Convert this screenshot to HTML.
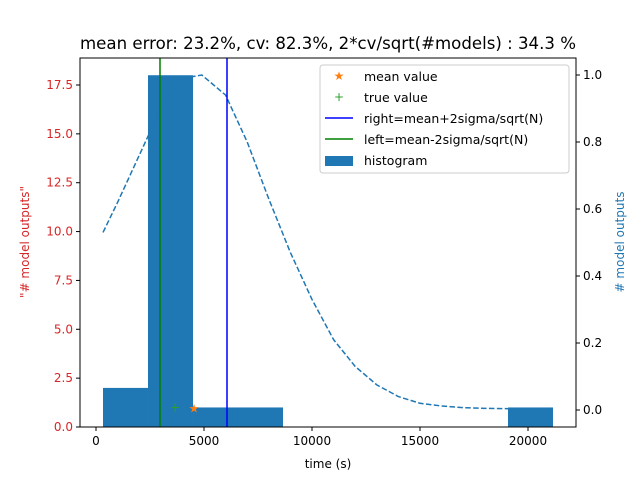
<!DOCTYPE html>
<html><head><meta charset="utf-8"><style>
body{margin:0;background:#fff;font-family:"DejaVu Sans","Liberation Sans",sans-serif}
svg text{font-family:"DejaVu Sans","Liberation Sans",sans-serif}
</style></head><body>
<svg id="c" width="640" height="480" xmlns="http://www.w3.org/2000/svg"></svg>
<script>
const binEdges=[324,2407,4491,6574,8657,10740,12824,14907,16990,19074,21157];
const binCounts=[2,18,1,1,0,0,0,0,0,1];
const curveX=[324,1000,2000,3000,4000,4900,6000,7000,8000,9000,10000,11000,12000,13000,14000,15000,16000,17000,18000,19000,20000];
const curveY=[0.53,0.62,0.76,0.9,0.99,1.0,0.94,0.8,0.63,0.47,0.33,0.21,0.13,0.075,0.04,0.02,0.012,0.007,0.005,0.004,0.003];
const meanValue=4537, trueValue=3657, leftLine=2963, rightLine=6065;
const xTicks=[0,5000,10000,15000,20000];
const yTicks=[0,2.5,5,7.5,10,12.5,15,17.5];
const y2Ticks=[0,0.2,0.4,0.6,0.8,1.0];
const L=80,R=576,T=58,B=427;
const sx=v=>96+v*0.0216;
const sy=v=>427-v*19.543;
const sy2=v=>410-v*335;
const svg=document.getElementById('c');
const NS='http://www.w3.org/2000/svg';
function mk(tag,attrs,txt){const e=document.createElementNS(NS,tag);for(const k in attrs)e.setAttribute(k,attrs[k]);if(txt!==undefined)e.textContent=txt;svg.appendChild(e);return e;}
let e;
e=mk('text',{x:328,y:49,'font-size':16.6,'text-anchor':'middle',textLength:496,lengthAdjust:'spacingAndGlyphs'},'mean error: 23.2%, cv: 82.3%, 2*cv/sqrt(#models) : 34.3 %');


binCounts.forEach((c,i)=>{if(!c)return;
 const b=mk('rect',{x:sx(binEdges[i]),y:sy(c),width:sx(binEdges[i+1])-sx(binEdges[i]),height:sy(0)-sy(c),fill:'#1f77b4'});
 
 });
e=mk('path',{d:curveX.map((x,i)=>(i?'L':'M')+sx(x)+','+sy2(curveY[i])).join(''),fill:'none',stroke:'#1f77b4','stroke-width':1.5,'stroke-dasharray':'5.5,2.4'});


e=mk('line',{x1:sx(leftLine),x2:sx(leftLine),y1:T,y2:B,stroke:'green','stroke-width':1.5});


e=mk('line',{x1:sx(rightLine),x2:sx(rightLine),y1:T,y2:B,stroke:'blue','stroke-width':1.5});


e=mk('text',{x:sx(trueValue),y:sy(1)+4,'font-size':12,fill:'#2ca02c','text-anchor':'middle'},'+');


e=mk('text',{x:sx(meanValue),y:sy(1)+5,'font-size':12,fill:'#ff7f0e','text-anchor':'middle'},'★');


e=mk('rect',{x:L,y:T,width:R-L,height:B-T,fill:'none',stroke:'#000','stroke-width':1});


xTicks.forEach(v=>{mk('line',{x1:sx(v),x2:sx(v),y1:B,y2:B+4,stroke:'#000'});
 const t=mk('text',{x:sx(v),y:B+18,'font-size':12,'text-anchor':'middle'},String(v));
 
 });
yTicks.forEach(v=>{mk('line',{x1:L-4,x2:L,y1:sy(v),y2:sy(v),stroke:'#000'});
 const t=mk('text',{x:L-7,y:sy(v)+4,'font-size':12,'text-anchor':'end',fill:'#d62728'},v.toFixed(1));
 
 });
y2Ticks.forEach(v=>{mk('line',{x1:R,x2:R+4,y1:sy2(v),y2:sy2(v),stroke:'#000'});
 const t=mk('text',{x:R+7,y:sy2(v)+4,'font-size':12,fill:'#000'},v.toFixed(1));
 
 });
e=mk('text',{x:328,y:468,'font-size':12,'text-anchor':'middle'},'time (s)');


e=mk('text',{x:0,y:0,'font-size':12,'text-anchor':'middle',fill:'#d62728',transform:'translate(29,242) rotate(-90)'},'"# model outputs"');


e=mk('text',{x:0,y:0,'font-size':12,'text-anchor':'middle',fill:'#1f77b4',transform:'translate(624,242) rotate(-90)'},'# model outputs');


e=mk('rect',{x:320,y:65,width:249,height:108,fill:'#fff','fill-opacity':0.8,stroke:'#ccc',rx:3});


const lg=[['★','#ff7f0e','mean value'],['+','#2ca02c','true value'],['blue','blue','right=mean+2sigma/sqrt(N)'],['green','green','left=mean-2sigma/sqrt(N)'],['bar','#1f77b4','histogram']];
lg.forEach((it,i)=>{const y=76+i*21;
 if(it[0]==='★'||it[0]==='+') mk('text',{x:339,y:y+4,'font-size':12,fill:it[1],'text-anchor':'middle'},it[0]);
 else if(it[0]==='bar') mk('rect',{x:325,y:y-4,width:28,height:10,fill:it[1]});
 else mk('line',{x1:325,x2:353,y1:y,y2:y,stroke:it[1],'stroke-width':1.5});
 const t=mk('text',{x:364,y:y+5,'font-size':12.5},it[2]);
 
 });
</script>
</body></html>
